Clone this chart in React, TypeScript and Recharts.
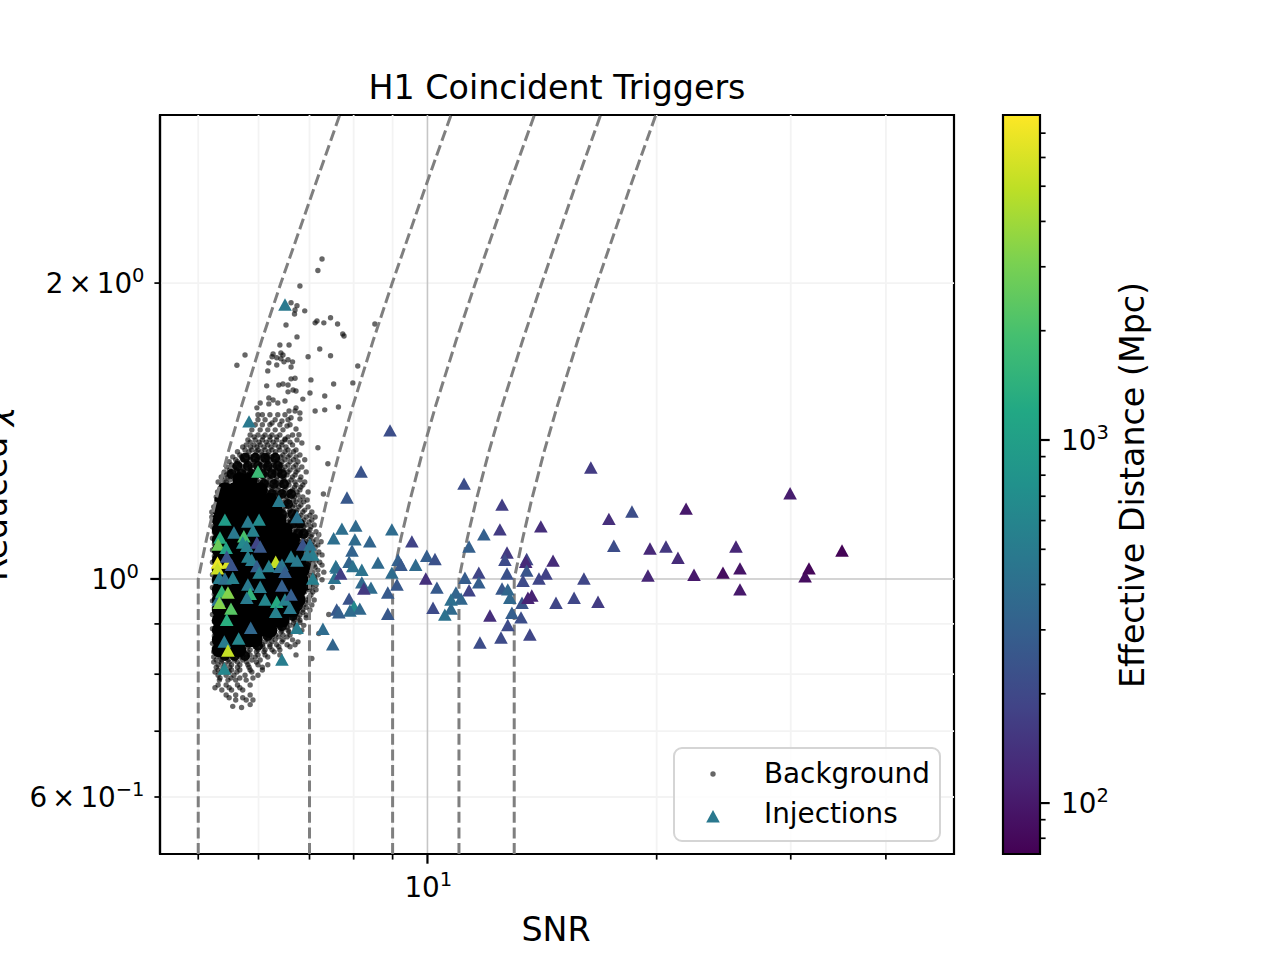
// H1 coincident triggers: reduced chi vs SNR, log-log, injections coloured by effective distance
import { ScatterChart, Scatter, XAxis, YAxis, ReferenceLine, ReferenceArea, Legend } from 'recharts'

const FONT = '"DejaVu Sans", sans-serif'

const X_DOMAIN = [4.454, 49.15]
const Y_DOMAIN = [0.525, 2.965]
const X_TICKS = [5, 6, 7, 8, 9, 10, 20, 30, 40]
const Y_TICKS = [0.6, 0.7, 0.8, 0.9, 1, 2]
const X_MINOR = [5, 6, 7, 8, 9, 20, 30, 40]
const Y_MINOR = [0.6, 0.7, 0.8, 0.9, 2]

const DIST_DOMAIN = [72.4, 7855]
const DIST_TICKS = [80, 90, 100, 200, 300, 400, 500, 600, 700, 800, 900, 1000, 2000, 3000, 4000, 5000, 6000, 7000]
const BAR_CORNERS = [{ x: 0, y: 100 }, { x: 1, y: 1000 }]

const VIRIDIS = ['#440154', '#482475', '#414487', '#355f8d', '#2a788e', '#21918c', '#22a884', '#44bf70', '#7ad151', '#bddf26', '#fde725']

// contours of constant new SNR, read along reduced chi
const contourChi = [0.525, 1, 1.1, 1.2, 1.35, 1.5, 1.75, 2, 2.5, 2.965]
const contour5 = [5, 5, 5.13, 5.27, 5.48, 5.7, 6.06, 6.42, 7.1, 7.67]
const contour7 = [7, 7, 7.18, 7.37, 7.67, 7.98, 8.49, 8.99, 9.93, 10.74]
const contour9 = [9, 9, 9.23, 9.48, 9.86, 10.25, 10.91, 11.56, 12.77, 13.82]
const contour11 = [11, 11, 11.28, 11.58, 12.05, 12.53, 13.34, 14.13, 15.61, 16.88]
const contour13 = [13, 13, 13.34, 13.69, 14.24, 14.81, 15.76, 16.7, 18.44, 19.95]

// solid middle of the background cloud, [chi, snrs]
const coreRows: [number, number[]][] = [
  [1.261, [5.67, 5.85]],
  [1.232, [5.42, 5.58, 5.76, 5.92, 6.03]],
  [1.203, [5.37, 5.53, 5.7, 5.88, 6.07, 6.21]],
  [1.175, [5.34, 5.5, 5.67, 5.85, 6.03, 6.21, 6.31]],
  [1.148, [5.33, 5.49, 5.65, 5.83, 6, 6.19, 6.38]],
  [1.122, [5.33, 5.49, 5.65, 5.83, 6, 6.19, 6.38, 6.5]],
  [1.096, [5.33, 5.49, 5.65, 5.83, 6, 6.19, 6.38, 6.57, 6.65]],
  [1.07, [5.33, 5.49, 5.65, 5.83, 6, 6.19, 6.38, 6.57, 6.74]],
  [1.045, [5.33, 5.49, 5.65, 5.83, 6, 6.19, 6.38, 6.57, 6.78]],
  [1.021, [5.33, 5.49, 5.65, 5.83, 6, 6.19, 6.38, 6.57, 6.78, 6.84]],
  [0.998, [5.33, 5.49, 5.65, 5.83, 6, 6.19, 6.38, 6.57, 6.78, 6.82]],
  [0.975, [5.33, 5.49, 5.65, 5.83, 6, 6.19, 6.38, 6.57, 6.78]],
  [0.952, [5.33, 5.49, 5.65, 5.83, 6, 6.19, 6.38, 6.57, 6.76]],
  [0.93, [5.33, 5.49, 5.65, 5.83, 6, 6.19, 6.38, 6.57, 6.65]],
  [0.908, [5.33, 5.49, 5.65, 5.83, 6, 6.19, 6.38, 6.44]],
  [0.887, [5.33, 5.49, 5.65, 5.83, 6, 6.19, 6.21]],
  [0.867, [5.33, 5.49, 5.65, 5.83, 5.94]],
  [0.847, [5.33, 5.49, 5.65]],
]

// almost solid rim around the middle, [chi, snrs]
const shoulderRows: [number, number[]][] = [
  [1.328, [5.76, 5.94, 6.12, 6.31]],
  [1.303, [5.63, 5.81, 5.99, 6.17, 6.36]],
  [1.279, [5.53, 5.7, 5.88, 6.07, 6.25, 6.44]],
  [1.249, [6.1, 6.29, 6.48]],
  [1.22, [6.25, 6.44, 6.62]],
  [1.192, [6.36, 6.56]],
  [1.164, [6.44, 6.65]],
  [1.138, [6.65, 6.8]],
  [1.112, [6.76, 6.88]],
  [1.081, [6.88]],
  [1.03, [6.93]],
  [0.984, [6.93]],
  [0.939, [6.76]],
  [0.917, [6.65]],
  [0.895, [6.44]],
  [0.875, [6.17]],
  [0.855, [5.99]],
  [0.835, [5.42, 5.58, 5.76]],
]

// edge of the cloud, [chi, snrs]
const fringeRows: [number, number[]][] = [
  [1.469, [5.99, 6.07, 6.21, 6.36, 6.5]],
  [1.452, [5.99, 6.12, 6.31, 6.56]],
  [1.435, [5.94, 6.07, 6.21, 6.4, 6.6]],
  [1.418, [5.88, 6.03, 6.17, 6.31, 6.46]],
  [1.401, [5.85, 5.99, 6.12, 6.25, 6.4, 6.65]],
  [1.385, [5.81, 5.94, 6.07, 6.21, 6.34, 6.5, 6.74]],
  [1.369, [5.78, 5.92, 6.03, 6.17, 6.31, 6.44, 6.65]],
  [1.353, [5.76, 5.88, 5.99, 6.12, 6.25, 6.4, 6.56, 6.72]],
  [1.337, [5.67, 5.79, 5.94, 6.07, 6.17, 6.31, 6.46, 6.6, 6.8]],
  [1.322, [5.6, 5.72, 5.85, 5.97, 6.1, 6.21, 6.36, 6.5, 6.67, 6.9]],
  [1.306, [5.53, 5.67, 5.79, 5.9, 6.03, 6.15, 6.29, 6.42, 6.56, 6.72]],
  [1.291, [5.5, 5.62, 5.74, 5.85, 5.96, 6.08, 6.21, 6.32, 6.46, 6.6, 6.76]],
  [1.276, [5.44, 5.55, 5.67, 5.79, 5.9, 6.03, 6.14, 6.27, 6.4, 6.54, 6.7]],
  [1.261, [5.41, 5.5, 5.97, 6.1, 6.21, 6.34, 6.48, 6.62, 6.8]],
  [1.246, [5.37, 5.47, 6.07, 6.17, 6.31, 6.44, 6.58, 6.72, 6.86]],
  [1.232, [5.34, 6.12, 6.25, 6.36, 6.5, 6.65, 6.8]],
  [1.217, [5.33, 6.21, 6.32, 6.46, 6.6, 6.76]],
  [1.203, [5.3, 6.25, 6.38, 6.52, 6.67, 6.8, 6.95]],
  [1.189, [5.28, 6.4, 6.54, 6.69, 6.82]],
  [1.175, [5.27, 6.46, 6.6, 6.74, 6.9]],
  [1.161, [6.54, 6.69, 6.82, 7.01]],
  [1.148, [6.6, 6.74, 6.88, 7.05]],
  [1.135, [6.67, 6.8, 6.93, 7.1]],
  [1.122, [6.72, 6.86, 7.01]],
  [1.109, [6.8, 6.93, 7.05, 7.2]],
  [1.096, [6.86, 6.99, 7.14]],
  [1.083, [6.9, 7.05, 7.18]],
  [1.07, [6.95, 7.07]],
  [1.058, [7.01, 7.14, 7.27]],
  [1.045, [7.01, 7.14]],
  [1.033, [7.01, 7.1, 7.27]],
  [1.021, [7.01, 7.18]],
  [1.009, [7.03, 7.18]],
  [0.998, [7.01, 7.12, 7.27]],
  [0.986, [7.01, 7.14]],
  [0.975, [6.99, 7.14]],
  [0.963, [7.03]],
  [0.952, [6.95, 7.1]],
  [0.941, [6.88, 7.05]],
  [0.93, [6.86, 7.01]],
  [0.919, [6.8, 6.93]],
  [0.908, [6.69, 6.8]],
  [0.897, [6.6, 6.72, 6.88]],
  [0.887, [6.44, 6.56, 6.7, 6.84]],
  [0.877, [6.32, 6.46, 6.6]],
  [0.867, [6.17, 6.31, 6.46, 6.65]],
  [0.857, [6.07, 6.21, 6.34, 6.54, 6.7]],
  [0.847, [5.85, 5.99, 6.12, 6.25, 6.4]],
  [0.837, [5.72, 5.85, 5.99, 6.12, 6.4, 6.72]],
  [0.827, [5.28, 5.37, 5.47, 5.58, 5.72, 5.88, 6.03]],
  [0.818, [5.31, 5.42, 5.53, 5.67, 5.81, 5.99, 6.17]],
  [0.808, [5.31, 5.41, 5.53, 5.67, 5.85, 6.07]],
  [0.798, [5.31, 5.44, 5.57, 5.76, 5.99]],
  [0.789, [5.33, 5.47, 5.6, 5.78]],
  [0.78, [5.31, 5.44, 5.63, 5.85]],
  [0.771, [5.37, 5.53, 5.72]],
  [0.762, [5.44, 5.6, 5.85]],
  [0.753, [5.6, 5.78, 5.9]],
]

// more of the same edge, in between the rows above
const fringeRowsB: [number, number[]][] = [
  [1.395, [5.92, 6.08, 6.21, 6.34, 6.56]],
  [1.378, [5.85, 6.01, 6.14, 6.27, 6.44, 6.6]],
  [1.362, [5.72, 5.86, 5.97, 6.1, 6.23, 6.38, 6.52]],
  [1.347, [5.63, 5.83, 5.96, 6.05, 6.19, 6.32, 6.5, 6.67]],
  [1.331, [5.55, 5.7, 5.86, 6.01, 6.14, 6.25, 6.42, 6.56, 6.72]],
  [1.316, [5.49, 5.63, 5.78, 5.92, 6.05, 6.17, 6.29, 6.44, 6.6, 6.76]],
  [1.3, [5.45, 5.58, 5.72, 5.85, 5.99, 6.12, 6.23, 6.36, 6.5, 6.67, 6.84]],
  [1.285, [5.41, 5.52, 5.63, 5.76, 5.88, 6.01, 6.15, 6.29, 6.4, 6.56, 6.72, 6.93]],
  [1.27, [5.36, 5.47, 5.6, 5.7, 5.85, 5.96, 6.08, 6.19, 6.34, 6.48, 6.65, 6.82]],
  [1.255, [5.31, 5.44, 6.03, 6.15, 6.29, 6.42, 6.56, 6.7, 6.9]],
  [1.24, [6.1, 6.23, 6.38, 6.52, 6.69, 6.82]],
  [1.226, [5.3, 6.17, 6.31, 6.44, 6.6, 6.74, 6.97]],
  [1.212, [5.28, 6.25, 6.38, 6.54, 6.69, 6.86]],
  [1.198, [6.31, 6.44, 6.58, 6.72, 6.88]],
  [1.184, [5.24, 6.38, 6.5, 6.65, 6.78, 6.97]],
  [1.17, [5.21, 6.44, 6.58, 6.72, 6.86, 7.05]],
  [1.156, [5.21, 6.5, 6.65, 6.78, 6.93, 7.12]],
  [1.143, [6.56, 6.7, 6.84, 6.99]],
  [1.13, [6.62, 6.76, 6.88, 7.03]],
  [1.117, [6.69, 6.82, 6.97, 7.14]],
  [1.104, [6.74, 6.88, 7.03]],
  [1.091, [6.78, 6.93, 7.07, 7.25]],
  [1.078, [6.82, 6.97, 7.12]],
  [1.065, [6.88, 7.03, 7.2]],
  [1.053, [6.93, 7.07]],
  [1.04, [6.93, 7.05, 7.22]],
  [1.028, [6.95, 7.12]],
  [1.016, [6.95, 7.07, 7.31]],
  [1.005, [6.95, 7.1]],
  [0.993, [6.95, 7.07]],
  [0.981, [6.93, 7.05]],
  [0.97, [6.9, 7.07]],
  [0.958, [6.86, 6.99]],
  [0.947, [6.82, 6.97]],
  [0.936, [6.78, 6.93]],
  [0.925, [6.72, 6.86]],
  [0.913, [6.65, 6.76, 6.93]],
  [0.903, [6.54, 6.67, 6.8]],
  [0.893, [6.4, 6.54, 6.7]],
  [0.883, [6.27, 6.42, 6.58, 6.8]],
  [0.873, [6.12, 6.25, 6.38, 6.54]],
  [0.863, [5.97, 6.12, 6.25, 6.44, 6.76]],
  [0.853, [5.81, 5.94, 6.08, 6.21, 6.38, 6.6]],
  [0.843, [5.24, 5.37, 5.5, 5.67, 5.81, 5.96, 6.1, 6.29]],
  [0.833, [5.24, 5.34, 5.44, 5.55, 5.67, 5.79, 5.94, 6.17]],
  [0.823, [5.24, 5.36, 5.49, 5.63, 5.79, 5.96]],
  [0.813, [5.28, 5.39, 5.5, 5.63, 5.83, 6.07]],
  [0.804, [5.26, 5.36, 5.49, 5.62, 5.88]],
  [0.793, [5.34, 5.52, 5.67, 5.9]],
  [0.775, [5.26, 5.49, 5.67]],
  [0.757, [5.49, 5.72]],
]

// left limit of the cloud, [snr, chi]
const leftEdgePoints: [number, number][] = [
  [5.22, 1.13], [5.25, 1.115], [5.22, 1.1], [5.25, 1.085], [5.22, 1.07], [5.25, 1.055], [5.22, 1.04], [5.25, 1.025], [5.22, 1.01], [5.25, 0.995],
  [5.22, 0.98], [5.25, 0.965], [5.22, 0.95], [5.25, 0.935], [5.22, 0.92], [5.25, 0.905], [5.22, 0.89], [5.25, 0.875], [5.22, 0.86], [5.25, 0.85],
]

// loud / high chi background triggers, [snr, chi]
const strayPoints: [number, number][] = [
  [7.27, 2.116], [7.18, 2.06], [6.8, 1.986], [6.62, 1.91], [6.74, 1.897], [6.7, 1.878], [6.69, 1.86], [6.9, 1.874],
  [6.52, 1.813], [7.16, 1.83], [7.12, 1.822], [7.31, 1.822], [7.46, 1.844], [7.62, 1.817], [7.74, 1.775], [7.77, 1.767],
  [8.53, 1.817], [6.74, 1.763], [6.4, 1.73], [6.58, 1.73], [7.22, 1.714], [6.97, 1.683], [7.46, 1.687], [5.76, 1.69],
  [5.62, 1.65], [6.27, 1.694], [6.25, 1.683], [6.42, 1.698], [6.46, 1.69], [6.34, 1.679], [6.42, 1.675], [6.56, 1.671],
  [6.65, 1.663], [6.48, 1.663], [6.19, 1.659], [6.34, 1.651], [6.62, 1.643], [6.17, 1.628], [8.1, 1.647], [6.7, 1.6],
  [6.62, 1.598], [7.03, 1.594], [6.15, 1.572], [6.38, 1.575], [6.46, 1.579], [6.56, 1.575], [7.53, 1.579], [7.98, 1.583],
  [6.66, 1.557], [6.72, 1.553], [6.56, 1.55], [7.01, 1.546], [7.33, 1.535], [6.86, 1.524], [6.19, 1.528], [6.27, 1.521],
  [6.36, 1.51], [6.5, 1.517], [6.03, 1.51], [6.19, 1.507], [5.97, 1.493], [7.64, 1.496], [7.12, 1.482], [7.33, 1.486],
  [6.58, 1.482], [6.7, 1.482], [6.72, 1.493], [6.8, 1.475], [6.8, 1.455], [6.62, 1.459], [6.44, 1.448], [6.25, 1.441],
  [6.54, 1.431], [6.72, 1.421], [6.78, 1.402], [6.84, 1.375], [6.5, 1.388], [7.18, 1.36], [7.4, 1.31], [7.3, 1.22],
  [7.5, 0.98], [7.42, 0.92], [7.2, 0.88], [7.05, 0.83], [5.55, 0.742], [5.7, 0.74], [5.85, 0.745],
]

// injections, [snr, chi, effective distance]
const injectionsQuiet: [number, number, number][] = [
  [5.99, 1.285, 1700], [6.38, 1.2, 500], [6.74, 1.155, 430], [5.42, 1.148, 950], [6.01, 1.148, 680], [5.81, 1.143, 500],
  [5.57, 1.114, 480], [5.9, 1.119, 560], [5.34, 1.101, 1300], [5.74, 1.104, 2000], [5.31, 1.083, 2700], [5.44, 1.075, 1050],
  [5.72, 1.088, 650], [5.79, 1.08, 560], [5.97, 1.088, 190], [6.03, 1.078, 260], [6.86, 1.083, 240], [7.01, 1.083, 430],
  [7.07, 1.058, 530], [6.95, 1.058, 480], [6.62, 1.053, 520], [6.74, 1.043, 490], [5.81, 1.053, 560], [5.88, 1.045, 520],
  [5.3, 1.038, 6800], [6.32, 1.04, 5200], [5.47, 1.038, 6000], [5.45, 1.053, 240], [5.53, 1.033, 240], [5.97, 1.03, 300],
  [6.19, 1.03, 540], [6.44, 1.033, 470], [7.53, 1.099, 400], [7.58, 1.03, 450], [5.3, 1.024, 5500], [6.01, 1.014, 560],
  [6.4, 1.028, 400], [6.5, 1.016, 290], [5.33, 1.002, 520], [5.42, 1, 400], [5.55, 1.002, 550], [5.81, 0.986, 480],
  [6.03, 0.981, 520], [6.44, 0.984, 300], [7.07, 1, 550], [7.55, 1.002, 430], [7.6, 1.026, 400], [7.69, 1.012, 170],
  [5.85, 0.965, 1500], [5.31, 0.952, 420], [5.37, 0.97, 1600], [5.47, 0.968, 3300], [5.79, 0.956, 500], [5.33, 0.945, 3300],
  [6.12, 0.952, 620], [6.34, 0.947, 1250], [6.5, 0.952, 560], [6.62, 0.963, 290], [6.6, 0.934, 500], [6.32, 0.925, 560],
  [5.52, 0.932, 2300], [5.45, 0.908, 1350], [5.86, 0.891, 350], [6.74, 0.891, 520], [5.65, 0.869, 620], [5.41, 0.863, 500],
  [5.47, 0.845, 5200], [6.44, 0.827, 520], [5.41, 0.81, 620], [7.29, 0.889, 380], [7.51, 0.857, 330], [7.6, 0.93, 260],
  [6.5, 1.9, 480], [5.83, 1.445, 480],
]

const injectionsMid: [number, number, number][] = [
  [8.93, 1.415, 220], [8.18, 1.285, 240], [7.84, 1.209, 260], [7.72, 1.124, 400], [8.05, 1.132, 360], [8.98, 1.122, 380],
  [8.03, 1.096, 370], [8.4, 1.091, 330], [9.54, 1.091, 185], [7.96, 1.068, 320], [7.89, 1.04, 330], [7.98, 1.03, 420],
  [8.2, 1.021, 430], [8.61, 1.038, 360], [9.15, 1.045, 300], [9.23, 1.033, 260], [9.65, 1.033, 370], [9.98, 1.055, 290],
  [10.23, 1.047, 230], [8.98, 1.014, 380], [9.95, 1, 140], [9.12, 0.986, 260], [8.87, 0.968, 270], [8.2, 0.991, 360],
  [8.43, 0.979, 380], [8.25, 0.977, 160], [7.89, 0.954, 240], [8.01, 0.936, 650], [7.91, 0.928, 380], [8.15, 0.932, 350],
  [8.87, 0.921, 260], [7.65, 0.924, 300], [10.29, 0.979, 270], [10.17, 0.934, 210], [11.34, 1.078, 300], [11.17, 1.249, 220],
  [12.53, 1.189, 170], [12.45, 1.122, 165], [11.86, 1.109, 300], [14.09, 1.13, 135], [12.72, 1.063, 160], [12.64, 1.045, 210],
  [13.5, 1.047, 190], [13.46, 1.04, 125], [14.62, 1.043, 130], [11.2, 1.002, 280], [11.68, 1.014, 190], [11.68, 0.991, 290],
  [11.34, 0.973, 185], [10.9, 0.968, 330], [11.07, 0.954, 340], [10.74, 0.952, 400], [10.74, 0.932, 360], [10.54, 0.919, 420],
  [12.08, 0.917, 135], [12.72, 1.012, 230], [13.5, 1.019, 250], [13.35, 0.995, 210], [14.01, 1, 190], [14.31, 1.012, 180],
  [12.53, 0.977, 260], [12.75, 0.975, 340], [12.83, 0.956, 350], [13.31, 0.945, 240], [13.55, 0.956, 115], [13.71, 0.961, 115],
  [14.75, 0.945, 190], [12.91, 0.923, 290], [13.27, 0.913, 220], [12.75, 0.897, 210], [12.49, 0.871, 210], [13.63, 0.877, 190],
  [11.72, 0.861, 215],
]

const injectionsLoud: [number, number, number][] = [
  [16.39, 1.297, 165], [17.31, 1.15, 135], [18.56, 1.17, 220], [21.86, 1.178, 100], [29.94, 1.221, 105], [17.57, 1.08, 215],
  [19.6, 1.073, 125], [20.57, 1.078, 155], [21.33, 1.05, 130], [25.42, 1.078, 120], [35.03, 1.068, 75], [25.73, 1.024, 95],
  [24.44, 1.014, 85], [22.39, 1.009, 100], [19.48, 1.007, 120], [16.05, 1, 190], [31.33, 1.005, 85], [31.7, 1.024, 78],
  [25.73, 0.975, 100], [16.75, 0.947, 165], [15.58, 0.956, 195],
]

const rowsToPoints = (rows: [number, number[]][]) => rows.flatMap(([y, xs]) => xs.map((x) => ({ x, y })))
const core = rowsToPoints(coreRows)
const shoulder = rowsToPoints(shoulderRows)
const fringe = [...rowsToPoints(fringeRows), ...rowsToPoints(fringeRowsB)]
const strays = [...leftEdgePoints, ...strayPoints].map(([x, y]) => ({ x, y }))
const injections = [...injectionsQuiet, ...injectionsMid, ...injectionsLoud].map(([x, y, dist]) => ({ x, y, dist }))
const contourLine = (xs: number[]) => xs.map((x, i) => ({ x, y: contourChi[i] }))
const contours = [contour5, contour7, contour9, contour11, contour13].map(contourLine)

function hexToRgb(hex: string) {
  return [1, 3, 5].map((i) => parseInt(hex.slice(i, i + 2), 16))
}

function distColor(d: number) {
  const [lo, hi] = DIST_DOMAIN
  const t = Math.min(1, Math.max(0, Math.log(d / lo) / Math.log(hi / lo))) * (VIRIDIS.length - 1)
  const i = Math.min(VIRIDIS.length - 2, Math.floor(t))
  const a = hexToRgb(VIRIDIS[i])
  const b = hexToRgb(VIRIDIS[i + 1])
  const c = a.map((v, k) => Math.round(v + (b[k] - v) * (t - i)))
  return `rgb(${c[0]},${c[1]},${c[2]})`
}

const tickPaint = { stroke: '#000', strokeWidth: 2.2 }
const sup = 19.5

function XTick({ x, y, payload }: any) {
  const major = payload.value === 10
  return (
    <g>
      <line x1={x} x2={x} y1={y} y2={y + (major ? 9.7 : 5.6)} stroke="#000" strokeWidth={major ? 2.2 : 1.7} />
      {major && (
        <text x={x - 23} y={897} fontFamily={FONT} fontSize={27.8} fill="#000">
          10<tspan dy={-11} fontSize={sup}>1</tspan>
        </text>
      )}
    </g>
  )
}

const yLabels: Record<number, [string, string]> = {
  0.6: ['6', '\u22121'],
  1: ['', '0'],
  2: ['2', '0'],
}

function YTick({ x, y, payload }: any) {
  const major = payload.value === 1
  const label = yLabels[payload.value]
  return (
    <g>
      <line x1={x} x2={x - (major ? 9.7 : 5.6)} y1={y} y2={y} stroke="#000" strokeWidth={major ? 2.2 : 1.7} />
      {label && (
        <text x={major ? 139 : 144.5} y={y + 10} textAnchor="end" fontFamily={FONT} fontSize={27.8} fill="#000">
          {label[0] && <tspan>{label[0]}</tspan>}
          {label[0] && <tspan dx={5}>×</tspan>}
          <tspan dx={label[0] ? 5 : 0}>10</tspan>
          <tspan dy={-11} fontSize={sup}>{label[1]}</tspan>
        </text>
      )}
    </g>
  )
}

function BarTick({ x, y, payload }: any) {
  const major = payload.value === 100 || payload.value === 1000
  return (
    <g>
      <line x1={x} x2={x + (major ? 9.7 : 5.6)} y1={y} y2={y} stroke="#000" strokeWidth={major ? 2.2 : 1.7} />
      {major && (
        <text x={x + 21} y={y + 10} fontFamily={FONT} fontSize={27.8} fill="#000">
          10<tspan dy={-11} fontSize={sup}>{payload.value === 100 ? 2 : 3}</tspan>
        </text>
      )}
    </g>
  )
}

const Dot = (r: number, opacity: number) => ({ cx, cy }: any) =>
  <circle cx={cx} cy={cy} r={r} fill="#000" fillOpacity={opacity} />

function Triangle({ cx, cy, payload }: any) {
  return <path d={`M${cx} ${cy - 6.6}L${cx + 6.8} ${cy + 5.8}L${cx - 6.8} ${cy + 5.8}Z`} fill={distColor(payload.dist)} />
}

function LegendBox() {
  return (
    <svg width={270} height={96} style={{ display: 'block' }}>
      <rect x={1} y={1} width={266} height={93} rx={8} fill="#fff" fillOpacity={0.8} stroke="#d5d5d5" strokeWidth={2} />
      <circle cx={40} cy={27} r={2.7} fill="#000" fillOpacity={0.6} />
      <path d="M40 63l6.8 12.4h-13.6z" fill={VIRIDIS[4]} />
      <text x={91} y={36} fontFamily={FONT} fontSize={27.8} fill="#000">Background</text>
      <text x={91} y={76} fontFamily={FONT} fontSize={27.8} fill="#000">Injections</text>
    </svg>
  )
}

const noDot = () => <g />

export default function App() {
  return (
    <div style={{ position: 'absolute', left: 0, top: 0, width: 1280, height: 960, background: '#fff', overflow: 'hidden' }}>
      <ScatterChart width={1280} height={960} margin={{ top: 115, right: 326, bottom: 76, left: 100 }}>
        <XAxis
          type="number" dataKey="x" scale="log" domain={X_DOMAIN} ticks={X_TICKS} interval={0} allowDataOverflow
          height={30} tickSize={0} tickMargin={0} tickLine={false} axisLine={tickPaint} tick={<XTick />}
        />
        <YAxis
          type="number" dataKey="y" scale="log" domain={Y_DOMAIN} ticks={Y_TICKS} interval={0} allowDataOverflow
          width={60} tickSize={0} tickMargin={0} tickLine={false} axisLine={tickPaint} tick={<YTick />}
        />
        {X_MINOR.map((v) => <ReferenceLine key={v} x={v} stroke="#f3f3f3" strokeWidth={1.8} />)}
        {Y_MINOR.map((v) => <ReferenceLine key={v} y={v} stroke="#f3f3f3" strokeWidth={1.8} />)}
        <ReferenceLine x={10} stroke="#c6c6c6" strokeWidth={1.6} />
        <ReferenceLine y={1} stroke="#c6c6c6" strokeWidth={1.6} />

        <Scatter name="Background" data={core} shape={Dot(7.6, 1)} isAnimationActive={false} />
        <Scatter name="Background" data={shoulder} shape={Dot(5, 0.92)} isAnimationActive={false} />
        <Scatter name="Background" data={fringe} shape={Dot(2.7, 0.6)} isAnimationActive={false} />
        <Scatter name="Background" data={strays} shape={Dot(2.7, 0.6)} isAnimationActive={false} />
        {contours.map((c, i) => (
          <Scatter
            key={i} data={c} shape={noDot} isAnimationActive={false}
            line={{ stroke: '#7f7f7f', strokeWidth: 3, strokeDasharray: '11 4.6' }}
          />
        ))}
        <Scatter name="Injections" data={injections} shape={<Triangle />} isAnimationActive={false} />

        <ReferenceArea x1={X_DOMAIN[0]} x2={X_DOMAIN[1]} y1={Y_DOMAIN[0]} y2={Y_DOMAIN[1]} fill="none" stroke="#000" strokeWidth={2.2} />

        <Legend
          layout="vertical" align="center" verticalAlign="middle" content={<LegendBox />}
          wrapperStyle={{ position: 'absolute', left: 673, top: 747, width: 270, height: 96 }}
        />

        <text x={557} y={99} textAnchor="middle" fontFamily={FONT} fontSize={33.3} fill="#000">H1 Coincident Triggers</text>
        <text x={556} y={941} textAnchor="middle" fontFamily={FONT} fontSize={33.3} fill="#000">SNR</text>
        <text transform="translate(7 581) rotate(-90)" fontFamily={FONT} fontSize={33.3} fill="#000">
          Reduced <tspan fontStyle="italic">χ</tspan>
        </text>
      </ScatterChart>

      <div style={{ position: 'absolute', left: 960, top: 0 }}>
        <ScatterChart width={200} height={960} margin={{ top: 115, right: 60, bottom: 106, left: 43 }}>
          <defs>
            <linearGradient id="viridisBar" x1="0" y1="1" x2="0" y2="0">
              {VIRIDIS.map((c, i) => <stop key={c} offset={i / (VIRIDIS.length - 1)} stopColor={c} />)}
            </linearGradient>
          </defs>
          <XAxis type="number" dataKey="x" domain={[0, 1]} hide />
          <YAxis
            type="number" dataKey="y" orientation="right" scale="log" domain={DIST_DOMAIN} ticks={DIST_TICKS} interval={0} allowDataOverflow
            width={60} tickSize={0} tickMargin={0} tickLine={false} axisLine={false} tick={<BarTick />}
          />
          <Scatter data={BAR_CORNERS} shape={noDot} isAnimationActive={false} />
          <ReferenceArea x1={0} x2={1} y1={DIST_DOMAIN[0]} y2={DIST_DOMAIN[1]} fill="url(#viridisBar)" fillOpacity={1} stroke="#000" strokeWidth={2.2} />
          <text transform="translate(184 485) rotate(-90)" textAnchor="middle" fontFamily={FONT} fontSize={33.3} fill="#000">
            Effective Distance (Mpc)
          </text>
        </ScatterChart>
      </div>
    </div>
  )
}
